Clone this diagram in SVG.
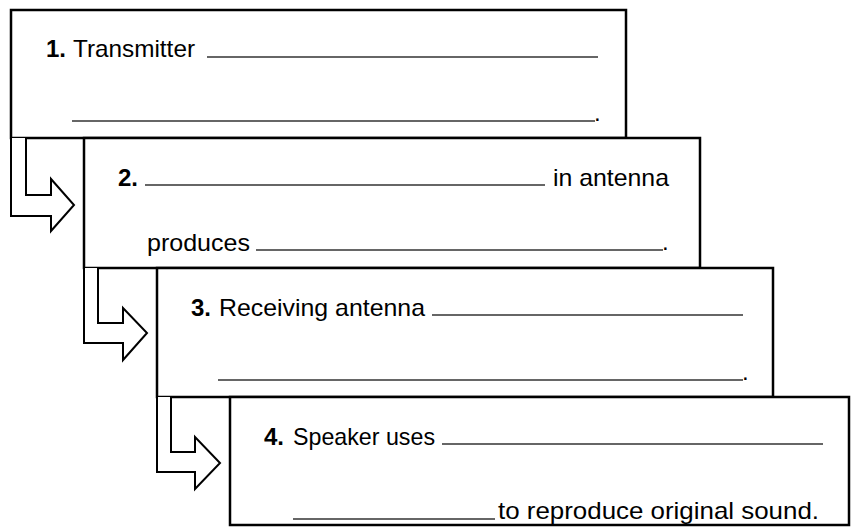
<svg xmlns="http://www.w3.org/2000/svg" width="859" height="527" viewBox="0 0 859 527">
<style>
.box{fill:#fff;stroke:#000;stroke-width:2.5}
.arr{fill:#fff;stroke:#000;stroke-width:2;stroke-linejoin:miter}
.ul{stroke:#333;stroke-width:1.5}
text{font-family:"Liberation Sans",Arial,sans-serif;font-size:24px;fill:#000}
.b{font-weight:bold}
</style>
<g id="node1">
<rect class="box" x="11" y="10" width="615" height="128"/>
<text x="46" y="57" class="b">1.</text>
<text x="73" y="57" textLength="122" lengthAdjust="spacingAndGlyphs">Transmitter</text>
<line class="ul" x1="207" y1="57" x2="598" y2="57"/>
<line class="ul" x1="72" y1="121" x2="595" y2="121"/>
<text x="594" y="121">.</text>
</g>
<g id="node2">
<rect class="box" x="84" y="138" width="616" height="130"/>
<text x="118" y="186" class="b">2.</text>
<line class="ul" x1="145" y1="185" x2="545" y2="185"/>
<text x="553" y="186" textLength="116" lengthAdjust="spacingAndGlyphs">in antenna</text>
<text x="147" y="251" textLength="103" lengthAdjust="spacingAndGlyphs">produces</text>
<line class="ul" x1="256" y1="250" x2="663" y2="250"/>
<text x="662" y="250">.</text>
</g>
<g id="node3">
<rect class="box" x="157" y="268" width="616" height="129"/>
<text x="191" y="316" class="b">3.</text>
<text x="219" y="316" textLength="206" lengthAdjust="spacingAndGlyphs">Receiving antenna</text>
<line class="ul" x1="432" y1="315" x2="743" y2="315"/>
<line class="ul" x1="218" y1="380" x2="743" y2="380"/>
<text x="742" y="380">.</text>
</g>
<g id="node4">
<rect class="box" x="230" y="397" width="619" height="128"/>
<text x="264" y="445" class="b">4.</text>
<text x="293" y="445" textLength="142" lengthAdjust="spacingAndGlyphs">Speaker uses</text>
<line class="ul" x1="442" y1="444" x2="823" y2="444"/>
<line class="ul" x1="293" y1="519" x2="495" y2="519"/>
<text x="498" y="519" textLength="321" lengthAdjust="spacingAndGlyphs">to reproduce original sound.</text>
</g>
<g id="connectors">
<polyline class="arr" points="11,138 11,216 51,216 51,231 74,205 51,179 51,195 26,195 26,138"/>
<polyline class="arr" points="84,268 84,343 123,343 123,360 147,333 123,308 123,323 98,323 98,268"/>
<polyline class="arr" points="157,397 157,472 195,472 195,489 220,463 195,437 195,452 171,452 171,397"/>
</g>
</svg>
